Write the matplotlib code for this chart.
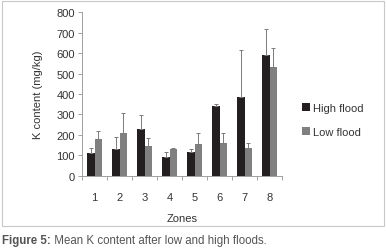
import matplotlib
matplotlib.use("Agg")
import matplotlib.pyplot as plt
from matplotlib.patches import Rectangle
import numpy as np

zones = ["1", "2", "3", "4", "5", "6", "7", "8"]
high_flood = [110, 133, 227, 92, 114, 340, 383, 589]
high_err = [28, 58, 68, 26, 19, 11, 232, 128]
low_flood = [181, 211, 146, 133, 157, 162, 134, 531]
low_err = [39, 97, 40, 5, 50, 45, 28, 95]
yticks = [0, 100, 200, 300, 400, 500, 600, 700, 800]

plt.rcParams["font.family"] = ["Liberation Sans", "DejaVu Sans"]

fig = plt.figure(figsize=(3.87, 2.53), dpi=100)
fig.patches.append(Rectangle((2 / 387, 1 - 227 / 253), 382 / 387, 225 / 253,
                             transform=fig.transFigure, fill=False,
                             edgecolor="#c8c8c8", linewidth=0.8))

ax = fig.add_axes([82 / 387, 1 - 176.7 / 253, 200 / 387, 163.4 / 253])
x = np.arange(len(zones))
w = 0.29
ekw = dict(ecolor="#7a7a7a", elinewidth=0.7, capsize=1.2, capthick=0.7)
ax.bar(x - w / 2, high_flood, w, color="#231f20", label="High flood",
       yerr=[np.zeros(len(zones)), high_err], error_kw=ekw)
ax.bar(x + w / 2, low_flood, w, color="#808080", label="Low flood",
       yerr=[np.zeros(len(zones)), low_err], error_kw=ekw)

ax.set_xlim(-0.5, len(zones) - 0.5)
ax.set_ylim(0, 800)
ax.set_yticks(yticks)
ax.tick_params(axis="y", labelsize=8, colors="#909090", labelcolor="#333333",
               length=3, width=0.6, pad=2)
ax.set_xticks(x)
ax.set_xticklabels(zones)
ax.set_xticks(np.arange(-0.5, len(zones)), minor=True)
ax.tick_params(axis="x", which="major", length=0, labelsize=8,
               labelcolor="#333333", pad=12)
ax.tick_params(axis="x", which="minor", length=3, width=0.6, colors="#909090")
for s in ["top", "right"]:
    ax.spines[s].set_visible(False)
for s in ["left", "bottom"]:
    ax.spines[s].set_color("#a0a0a0")
    ax.spines[s].set_linewidth(0.7)

ax.set_ylabel("K content (mg/kg)", fontsize=8, color="#333333", labelpad=10)
ax.set_xlabel("Zones", fontsize=8, color="#333333", labelpad=8)

ax.legend(loc="center left", bbox_to_anchor=(292 / 387, 1 - 121 / 253),
          bbox_transform=fig.transFigure, frameon=False, fontsize=8,
          handlelength=0.7, handleheight=0.7, handletextpad=0.3,
          labelspacing=1.3, labelcolor="#333333")

cap = fig.text(2 / 387, 1 - 241 / 253, "Figure 5:", fontsize=8.3,
               fontweight="bold", color="#555555", va="center", ha="left")
ax.annotate(" Mean K content after low and high floods.", xy=(1, 0.5),
            xycoords=cap, va="center", ha="left", fontsize=8.3,
            color="#555555", annotation_clip=False)

fig.savefig("out.png", dpi=100)
